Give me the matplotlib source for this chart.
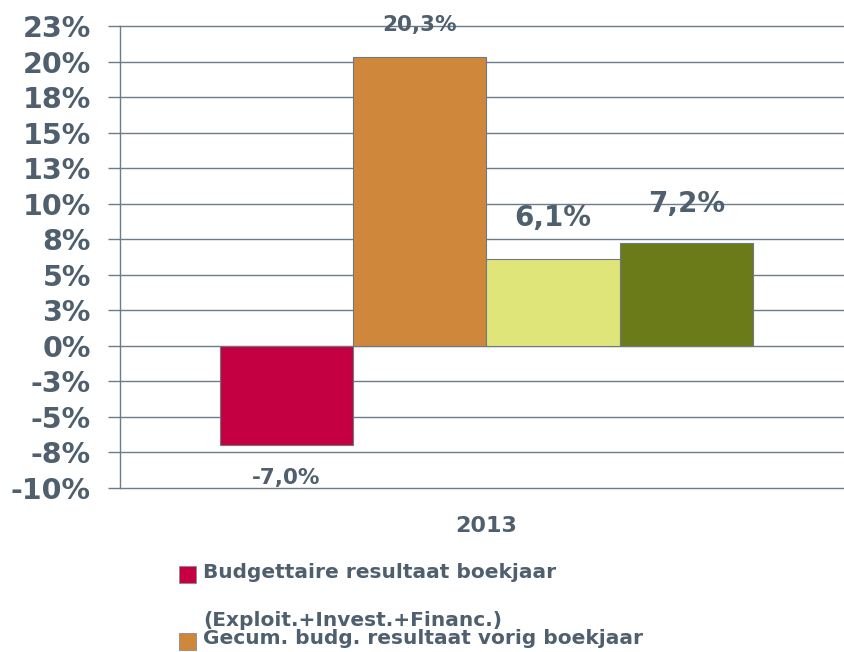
import math
import matplotlib
matplotlib.use("Agg")
import matplotlib.pyplot as plt
from matplotlib.patches import Rectangle
from matplotlib.ticker import FuncFormatter

# data
category = "2013"
series = [
    "Budgettaire resultaat boekjaar\n(Exploit.+Invest.+Financ.)",
    "Gecum. budg. resultaat vorig boekjaar",
    "Gecum. budg. resultaat boekjaar",
    "Resultaat op kasbasis",
]
values = [-7.0, 20.3, 6.1, 7.2]
colors = ["#C40042", "#CF873B", "#E0E57A", "#6B7B1A"]

# label layout (data y of each value label, font size)
label_y = [-9.3, 22.6, 9.0, 10.0]
label_size = [15.5, 15.5, 20, 20]

TXT = "#4F5F6E"
GRID = "#6E7C88"

fig = plt.figure(figsize=(8.44, 6.52), dpi=100)
ax = fig.add_axes([120 / 844, 164 / 652, 733 / 844, 462 / 652])

w = 0.182
n = len(values)
xs = [(i - (n - 1) / 2) * w for i in range(n)]
ax.bar(xs, values, width=w, color=colors, edgecolor="#707880", linewidth=0.8, zorder=3)

for x, v, y, fs in zip(xs, values, label_y, label_size):
    ax.text(x, y, f"{v:.1f}".replace(".", ",") + "%", ha="center", va="center",
            fontsize=fs, fontweight="bold", color=TXT, zorder=4)

ax.set_xlim(-0.5, 0.5)
ax.set_ylim(-10, 22.5)
ax.set_yticks([-10 + 2.5 * k for k in range(14)])


def pct(v, pos):
    r = int(math.copysign(math.floor(abs(v) + 0.5), v))
    return f"{r}%"


ax.yaxis.set_major_formatter(FuncFormatter(pct))
ax.yaxis.grid(True, color=GRID, linewidth=1.0)
for gl in ax.get_ygridlines():
    gl.set_clip_on(False)
ax.set_axisbelow(True)
for s in ["top", "right", "bottom"]:
    ax.spines[s].set_visible(False)
ax.spines["left"].set_color(GRID)
ax.spines["left"].set_linewidth(1.0)
ax.tick_params(axis="y", length=9, width=1.0, color=GRID, pad=12,
               labelsize=20.5, labelcolor=TXT)
for t in ax.get_yticklabels():
    t.set_fontweight("bold")

ax.set_xticks([0])
ax.set_xticklabels([category], fontsize=16, fontweight="bold", color=TXT)
ax.tick_params(axis="x", length=0, pad=20)

# legend (bottom of it is cut off in the reference)
row_y = [574, 641]
for name, col, ry in zip(series[:2], colors[:2], row_y):
    fig.add_artist(Rectangle((179 / 844, 1 - (ry + 9) / 652), 17 / 844, 17 / 652,
                             transform=fig.transFigure, facecolor=col,
                             edgecolor="#8A8A8A", linewidth=0.6))
    for j, line in enumerate(name.split("\n")):
        fig.text(203 / 844, 1 - (ry - 2 + j * 48) / 652, line, ha="left", va="center",
                 fontsize=14.5, fontweight="bold", color=TXT)

fig.savefig("out.png", dpi=100)
